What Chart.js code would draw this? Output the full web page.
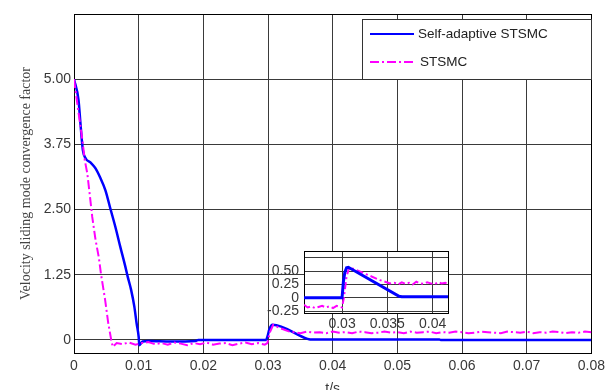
<!DOCTYPE html>
<html>
<head>
<meta charset="utf-8">
<script src="https://cdn.jsdelivr.net/npm/chart.js@4.4.1/dist/chart.umd.min.js"></script>
<style>
  html, body { margin: 0; padding: 0; background: #ffffff; }
  #wrap { position: relative; width: 610px; height: 390px; overflow: hidden; }
  #main { position: absolute; left: 0; top: 0; }
  #inset { position: absolute; left: 262px; top: 238px; }
</style>
</head>
<body>
<div id="wrap">
  <canvas id="main" width="610" height="390"></canvas>
  <canvas id="inset" width="200" height="100"></canvas>
</div>
<script>
// ---------------- data ----------------
const seriesNames = ['Self-adaptive STSMC', 'STSMC'];

// main plot – Self-adaptive STSMC (blue)
const blueT = [0, 0.0007, 0.00096, 0.00137, 0.00181, 0.00258, 0.00333, 0.0041, 0.00486, 0.00562, 0.00639, 0.00715,
  0.00791, 0.00831, 0.00883, 0.00933, 0.00968, 0.0100, 0.0101, 0.0106, 0.0115, 0.015, 0.0188, 0.0192, 0.0297,
  0.0299, 0.0302, 0.0307, 0.0361, 0.0365, 0.0565, 0.0567, 0.08];
const blueV = [5.0, 4.6, 4.21, 3.64, 3.48, 3.40, 3.29, 3.10, 2.87, 2.52, 2.17, 1.79,
  1.42, 1.21, 0.96, 0.64, 0.32, 0.06, -0.1, -0.03, -0.02, -0.03, -0.02, 0.0, 0.0,
  0.06, 0.2, 0.29, 0.02, 0.01, 0.01, 0.0, 0.0];

// main plot – STSMC (magenta)
const magT = [0, 0.0006, 0.0013, 0.00166, 0.00206, 0.00247, 0.00282, 0.00333, 0.00384, 0.00419, 0.0048, 0.0053,
  0.0058, 0.0060,
  0.0066, 0.0075, 0.0085, 0.0095, 0.0105, 0.0115, 0.0125, 0.0135, 0.0145, 0.0155, 0.0165, 0.0175, 0.0185,
  0.0195, 0.0205, 0.0215, 0.0225, 0.0235, 0.0245, 0.0255, 0.0265, 0.0275, 0.0285, 0.0295,
  0.0299, 0.0303, 0.0308, 0.0318, 0.0333,
  0.034, 0.035, 0.036, 0.037, 0.038, 0.039, 0.040, 0.041, 0.042, 0.043, 0.044, 0.045, 0.046, 0.047, 0.048,
  0.049, 0.050, 0.051, 0.052, 0.053, 0.054, 0.055, 0.056, 0.057, 0.058, 0.059, 0.060, 0.061, 0.062, 0.063,
  0.064, 0.065, 0.066, 0.067, 0.068, 0.069, 0.070, 0.071, 0.072, 0.073, 0.074, 0.075, 0.076, 0.077, 0.078,
  0.079, 0.080];
const magV = [5.0, 4.45, 3.83, 3.45, 3.19, 2.75, 2.36, 1.92, 1.58, 1.25, 0.78, 0.32,
  -0.03, -0.13,
  -0.06, -0.08, -0.05, -0.09, -0.06, -0.04, -0.08, -0.06, -0.09, -0.05, -0.07, -0.10, -0.06,
  -0.08, -0.05, -0.09, -0.07, -0.06, -0.10, -0.07, -0.05, -0.08, -0.06, -0.09,
  -0.06, 0.15, 0.29, 0.23, 0.16,
  0.15, 0.13, 0.16, 0.14, 0.15, 0.13, 0.16, 0.14, 0.15, 0.13, 0.16, 0.15, 0.13, 0.14, 0.16,
  0.14, 0.15, 0.13, 0.16, 0.14, 0.15, 0.16, 0.13, 0.15, 0.14, 0.16, 0.15, 0.13, 0.14, 0.16,
  0.15, 0.14, 0.13, 0.16, 0.15, 0.14, 0.16, 0.13, 0.15, 0.14, 0.16, 0.15, 0.13, 0.15, 0.14,
  0.16, 0.15];

// inset (zoomed view around t = 0.03)
const insetBlueT = [0.0258, 0.0300, 0.03015, 0.0303, 0.0305, 0.0307, 0.0363, 0.0366, 0.0418];
const insetBlueV = [0.0, 0.0, 0.30, 0.47, 0.56, 0.57, 0.03, 0.02, 0.02];
const insetMagT = [0.0258, 0.0262, 0.0266, 0.0270, 0.0274, 0.0278, 0.0282, 0.0286, 0.0290, 0.0294, 0.0298, 0.0300,
  0.0302, 0.0305, 0.0308, 0.0316, 0.0331, 0.0342, 0.0353,
  0.0358, 0.0362, 0.0366, 0.0370, 0.0374, 0.0378, 0.0382, 0.0386, 0.0390, 0.0394, 0.0398, 0.0402, 0.0406,
  0.0410, 0.0414, 0.0418];
const insetMagV = [-0.13, -0.18, -0.16, -0.19, -0.17, -0.15, -0.18, -0.16, -0.19, -0.15, -0.17, -0.18,
  0.0, 0.40, 0.567, 0.52, 0.41, 0.33, 0.27,
  0.28, 0.25, 0.29, 0.26, 0.28, 0.25, 0.30, 0.27, 0.26, 0.29, 0.27, 0.25, 0.29,
  0.27, 0.28, 0.26];

// ticks
const xTicks = [0, 0.01, 0.02, 0.03, 0.04, 0.05, 0.06, 0.07, 0.08];
const yTicks = [0, 1.25, 2.5, 3.75, 5];
const insetXTicks = [0.03, 0.035, 0.04];
const insetYGrid = [-0.25, 0, 0.25, 0.5, 0.75];
const insetYLabeled = [-0.25, 0, 0.25, 0.5];

// ---------------- helpers ----------------
const zip = (t, v) => t.map((x, i) => ({ x: x, y: v[i] }));
const SANS = '"Liberation Sans", Arial, sans-serif';
const SERIF = '"Liberation Serif", "Times New Roman", serif';
const BLUE = '#0000ff';
const MAG = '#ff00ff';
const DASHDOT = [9, 3, 2, 3];
const GRID = '#3a3a3a';
const TXT = '#383838';

const fmtX = v => { const r = Math.round(v * 1000) / 1000; return r === 0 ? '0' : String(r); };
const fmtY = v => (Math.abs(v) < 1e-9 ? '0' : v.toFixed(2));

const boxPlugin = {
  id: 'boxPlugin',
  beforeDraw(chart) {
    const a = chart.chartArea, c = chart.ctx;
    c.save();
    c.fillStyle = '#ffffff';
    c.fillRect(a.left, a.top, a.right - a.left, a.bottom - a.top);
    c.restore();
  },
  beforeDatasetsDraw(chart) {
    const a = chart.chartArea, c = chart.ctx;
    c.save();
    c.strokeStyle = '#000000';
    c.lineWidth = 1;
    c.strokeRect(Math.round(a.left) + 0.5, Math.round(a.top) + 0.5,
      Math.round(a.right - a.left), Math.round(a.bottom - a.top));
    c.restore();
  }
};

const legendBox = {
  id: 'legendBox',
  afterDatasetsDraw(chart) {
    const c = chart.ctx;
    const bx = 362, by = 19, bw = 229, bh = 60;
    c.save();
    c.fillStyle = '#ffffff';
    c.fillRect(bx, by, bw, bh);
    c.strokeStyle = '#333333';
    c.lineWidth = 1;
    c.strokeRect(bx + 0.5, by + 0.5, bw, bh);
    const rows = [34, 62];
    chart.data.datasets.forEach((ds, i) => {
      const y = rows[i];
      c.beginPath();
      c.strokeStyle = ds.borderColor;
      c.lineWidth = 2;
      c.setLineDash(ds.borderDash || []);
      c.moveTo(370, y);
      c.lineTo(414, y);
      c.stroke();
      c.setLineDash([]);
      c.fillStyle = '#222222';
      c.font = '13.5px ' + SANS;
      c.textBaseline = 'middle';
      c.textAlign = 'left';
      c.fillText(ds.label, i === 0 ? 418 : 420, y);
    });
    c.restore();
  }
};

// ---------------- main chart ----------------
new Chart(document.getElementById('main'), {
  type: 'line',
  data: {
    datasets: [
      { label: seriesNames[0], data: zip(blueT, blueV), borderColor: BLUE, borderWidth: 2.5,
        pointRadius: 0, cubicInterpolationMode: 'monotone', fill: false, order: 1 },
      { label: seriesNames[1], data: zip(magT, magV), borderColor: MAG, borderWidth: 2,
        borderDash: DASHDOT, pointRadius: 0, tension: 0, fill: false, order: 0 }
    ]
  },
  options: {
    responsive: false, animation: false, events: [],
    layout: { padding: { left: 0, top: 14, right: 11, bottom: 0 } },
    plugins: { legend: { display: false }, tooltip: { enabled: false } },
    scales: {
      x: {
        type: 'linear', min: 0, max: 0.08,
        afterBuildTicks: s => { s.ticks = xTicks.map(v => ({ value: v })); },
        afterFit: s => { s.height = 37; },
        grid: { color: GRID, lineWidth: 1, drawTicks: false },
        border: { display: false },
        ticks: { padding: 5, color: TXT, font: { family: SANS, size: 14 }, maxRotation: 0,
          autoSkip: false, callback: v => fmtX(v) },
        title: { display: true, text: 't/s', color: TXT, font: { family: SANS, size: 14 },
          padding: { top: 0, bottom: -8 } }
      },
      y: {
        type: 'linear', min: -0.25, max: 6.25,
        afterBuildTicks: s => { s.ticks = yTicks.map(v => ({ value: v })); },
        afterFit: s => { s.width = 74; },
        grid: { color: GRID, lineWidth: 1, drawTicks: false },
        border: { display: false },
        ticks: { padding: 3, color: TXT, font: { family: SANS, size: 14 }, autoSkip: false,
          callback: v => fmtY(v) },
        title: { display: true, text: 'Velocity sliding mode convergence factor', color: '#444444',
          font: { family: SERIF, size: 14 }, padding: { top: 17.5, bottom: 0 } }
      }
    }
  },
  plugins: [boxPlugin, legendBox]
});

// ---------------- inset chart ----------------
new Chart(document.getElementById('inset'), {
  type: 'line',
  data: {
    datasets: [
      { label: seriesNames[0], data: zip(insetBlueT, insetBlueV), borderColor: BLUE, borderWidth: 3,
        pointRadius: 0, tension: 0, fill: false, order: 0 },
      { label: seriesNames[1], data: zip(insetMagT, insetMagV), borderColor: MAG, borderWidth: 2,
        borderDash: [7, 3, 2, 3], pointRadius: 0, tension: 0, fill: false, order: 1 }
    ]
  },
  options: {
    responsive: false, animation: false, events: [],
    layout: { padding: { left: 0, top: 6, right: 14, bottom: 0 } },
    plugins: { legend: { display: false }, tooltip: { enabled: false } },
    scales: {
      x: {
        type: 'linear', min: 0.0258, max: 0.0417,
        afterBuildTicks: s => { s.ticks = insetXTicks.map(v => ({ value: v })); },
        afterFit: s => { s.height = 25; },
        grid: { color: GRID, lineWidth: 1, drawTicks: false },
        border: { display: false },
        ticks: { padding: 3, color: TXT, font: { family: SANS, size: 14 }, maxRotation: 0,
          autoSkip: false, callback: v => fmtX(v) }
      },
      y: {
        type: 'linear', min: -0.283, max: 0.867,
        afterBuildTicks: s => { s.ticks = insetYGrid.map(v => ({ value: v })); },
        afterFit: s => { s.width = 42; },
        grid: { color: GRID, lineWidth: 1, drawTicks: false },
        border: { display: false },
        ticks: { padding: 5, color: TXT, font: { family: SANS, size: 14 }, autoSkip: false,
          callback: v => (insetYLabeled.some(u => Math.abs(u - v) < 1e-9) ? fmtY(v) : '') }
      }
    }
  },
  plugins: [boxPlugin]
});
</script>
</body>
</html>
